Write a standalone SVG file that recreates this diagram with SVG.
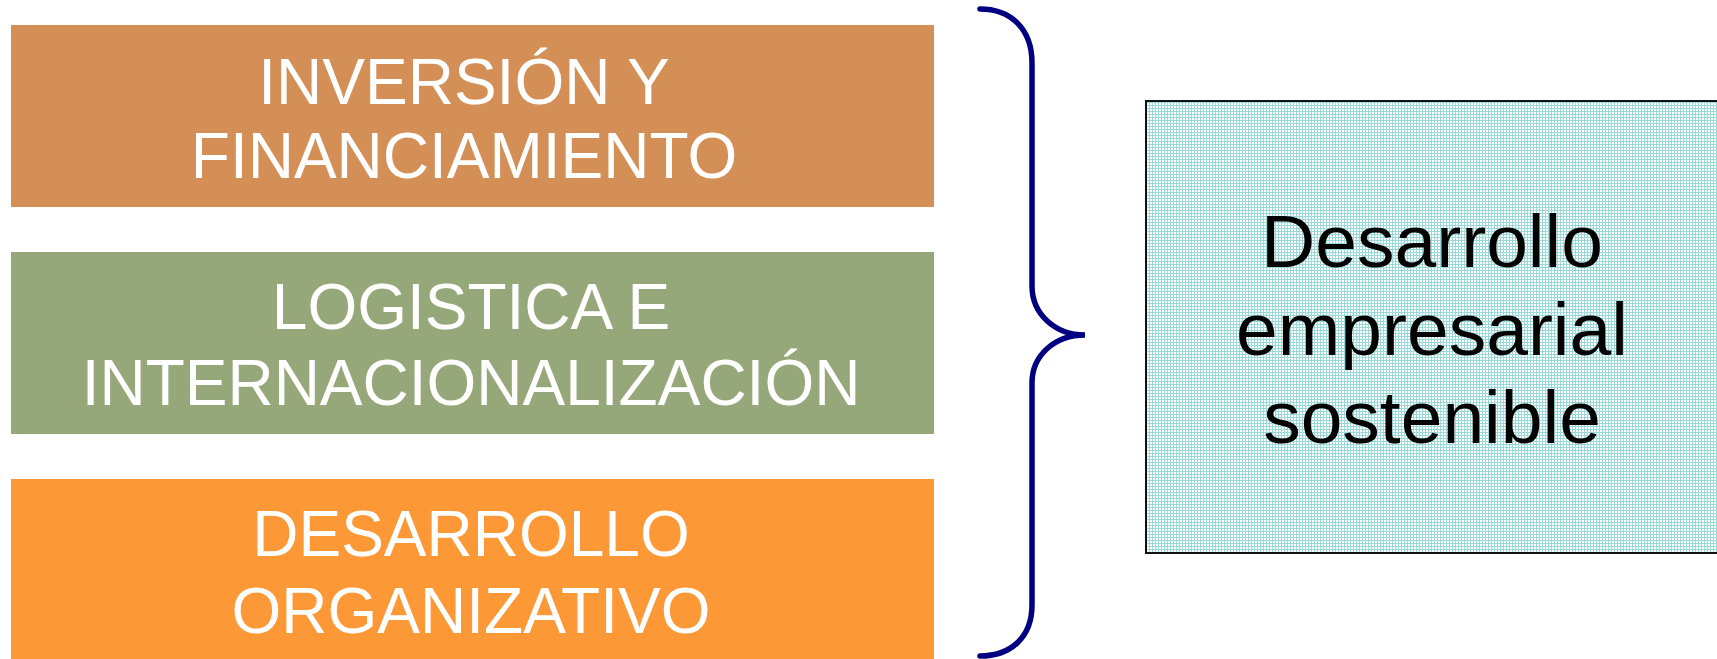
<svg xmlns="http://www.w3.org/2000/svg" width="1717" height="659" viewBox="0 0 1717 659">
<style>
.lbl{font-family:"Liberation Sans",Arial,sans-serif;font-size:64px;fill:#ffffff;text-anchor:middle}
.big{font-family:"Liberation Sans",Arial,sans-serif;font-size:75px;fill:#000000;text-anchor:middle}
.brace{fill:none;stroke:#000080;stroke-width:5.5;stroke-linecap:round}
</style>
<defs>
<pattern id="grid" width="3" height="3" patternUnits="userSpaceOnUse">
<rect width="3" height="3" fill="#ffffff"/>
<rect x="0" y="0" width="3" height="1" fill="#9ad9d9"/>
<rect x="0" y="0" width="1" height="3" fill="#9ad9d9"/>
</pattern>
</defs>
<rect width="1717" height="659" fill="#ffffff"/>
<g id="node-inversion">
<rect x="11" y="25" width="923" height="182" fill="#d48f57"/>
<text class="lbl" x="464" y="104">INVERSIÓN Y</text>
<text class="lbl" x="464" y="178">FINANCIAMIENTO</text>
</g>
<g id="node-logistica">
<rect x="11" y="252" width="923" height="182" fill="#96a87a"/>
<text class="lbl" x="471" y="329">LOGISTICA E</text>
<text class="lbl" x="471" y="405">INTERNACIONALIZACIÓN</text>
</g>
<g id="node-desarrollo-org">
<rect x="11" y="479" width="923" height="182" fill="#fc9836"/>
<text class="lbl" x="471" y="556">DESARROLLO</text>
<text class="lbl" x="471" y="633">ORGANIZATIVO</text>
</g>
<g id="connectors">
<path class="brace" d="M980,9 C1010,9 1032,28 1032,63 L1032,286 C1032,314 1055,335 1085,335 C1055,335 1032,355 1032,383 L1032,605 C1032,638 1010,656 980,656"/>
</g>
<g id="node-desarrollo-emp">
<rect x="1146" y="101" width="580" height="452" fill="url(#grid)" stroke="#111111" stroke-width="2"/>
<text class="big" x="1432" y="267">Desarrollo</text>
<text class="big" x="1432" y="355">empresarial</text>
<text class="big" x="1432" y="443">sostenible</text>
</g>
</svg>
